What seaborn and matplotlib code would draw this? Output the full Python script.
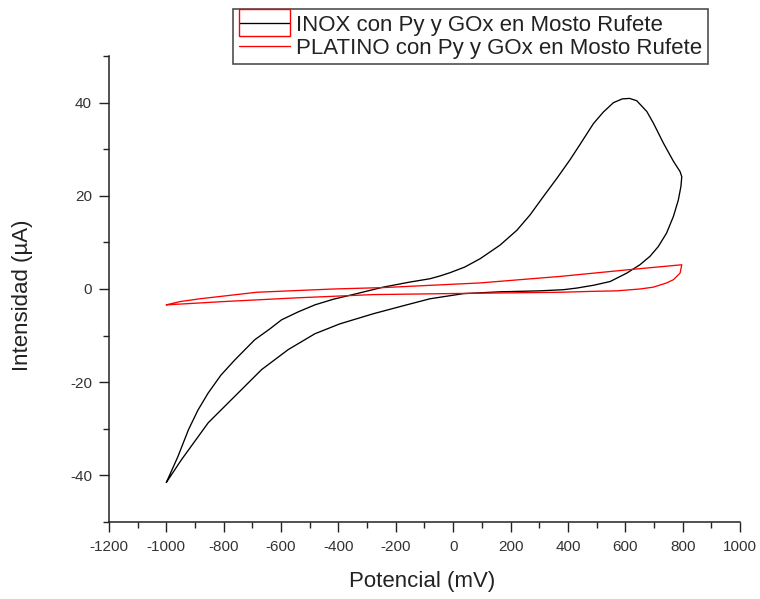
import matplotlib
matplotlib.use("Agg")
import matplotlib.pyplot as plt
from matplotlib.legend_handler import HandlerLine2D
from matplotlib.patches import Rectangle
from matplotlib.ticker import MultipleLocator
import seaborn as sns
import pandas as pd

# Cyclic voltammogram, stainless steel (INOX) electrode: potential (mV), current (uA)
inox_potential = [-1000, -960, -923, -890, -854, -810, -761, -692, -640, -598, -540,
                  -482, -418, -330, -244, -150, -81, -46, -11, 40, 94, 163, 222, 268,
                  314, 361, 407, 442, 489, 524, 559, 590, 615, 640, 675, 698, 733,
                  768, 791, 797,
                  794, 785, 768, 744, 715, 686, 651, 605, 547, 489, 431, 384, 300,
                  163, 35, -81, -162, -278, -396, -482, -575, -668, -761, -854,
                  -947, -1000]
inox_current = [-41.5, -36.0, -30.2, -26.0, -22.3, -18.5, -15.2, -10.9, -8.6, -6.6, -4.9,
                -3.4, -2.2, -0.9, 0.4, 1.5, 2.2, 2.8, 3.5, 4.7, 6.5, 9.4, 12.6, 15.9,
                19.8, 23.7, 27.7, 31.0, 35.5, 38.0, 40.0, 40.8, 40.9, 40.4, 38.1, 35.6, 31.3,
                27.4, 25.2, 24.1,
                22.0, 19.1, 15.6, 12.0, 9.1, 7.0, 5.2, 3.4, 1.6, 0.8, 0.2, -0.15, -0.4,
                -0.6, -1.0, -2.1, -3.4, -5.3, -7.5, -9.6, -13.0, -17.3, -23.0, -28.7,
                -36.6, -41.5]

# Cyclic voltammogram, platinum electrode
pt_potential = [-1000, -952, -883, -685, -418, -245, 93, 373, 605, 797,
                791, 768, 744, 698, 651, 570, 488, 373, 93, -279, -546, -801, -941, -1000]
pt_current = [-3.4, -2.7, -2.1, -0.7, 0.0, 0.3, 1.3, 2.7, 4.1, 5.2,
              3.4, 2.0, 1.3, 0.4, 0.0, -0.4, -0.5, -0.7, -0.9, -1.2, -1.9, -2.7, -3.2, -3.4]

series_labels = ["INOX con Py y GOx en Mosto Rufete",
                 "PLATINO con Py y GOx en Mosto Rufete"]

x_ticks = list(range(-1200, 1001, 200))
y_ticks = [-40, -20, 0, 20, 40]

sns.set_style("ticks")
plt.rcParams["font.family"] = ["Liberation Sans", "DejaVu Sans"]
plt.rcParams["axes.unicode_minus"] = False

inox = pd.DataFrame({"Potencial": inox_potential, "Intensidad": inox_current})
pt = pd.DataFrame({"Potencial": pt_potential, "Intensidad": pt_current})

fig = plt.figure(figsize=(7.6, 5.99), dpi=100)
ax = fig.add_axes([109 / 760, 1 - 522 / 599, 631 / 760, 466 / 599])

sns.lineplot(data=inox, x="Potencial", y="Intensidad", sort=False, estimator=None,
             color="black", lw=0.95, ax=ax, label=series_labels[0])
sns.lineplot(data=pt, x="Potencial", y="Intensidad", sort=False, estimator=None,
             color="#ff0000", lw=0.95, ax=ax, label=series_labels[1])

ax.set_xlim(-1200, 1000)
ax.set_ylim(-50, 50)
ax.set_xticks(x_ticks)
ax.set_yticks(y_ticks)
ax.xaxis.set_minor_locator(MultipleLocator(100))
ax.yaxis.set_minor_locator(MultipleLocator(10))
ax.tick_params(which="major", length=7.2, width=1.0, color="#222222",
               labelsize=11, labelcolor="#333333")
ax.tick_params(which="minor", length=4.3, width=1.0, color="#222222")
ax.tick_params(axis="y", which="major", pad=5)
ax.tick_params(axis="x", which="major", pad=6)

for side in ("top", "right"):
    ax.spines[side].set_visible(False)
for side in ("left", "bottom"):
    ax.spines[side].set_linewidth(1.1)
    ax.spines[side].set_color("#222222")

ax.set_xlabel("Potencial (mV)", fontsize=16, color="#222222")
ax.set_ylabel("Intensidad (µA)", fontsize=16, color="#222222")
ax.xaxis.set_label_coords(0.497, -0.105)
ax.yaxis.set_label_coords(-0.12, 0.487)


class BoxedLine(HandlerLine2D):
    """Line handle framed by a thin red box."""

    def create_artists(self, legend, orig_handle, xdescent, ydescent, width,
                       height, fontsize, trans):
        artists = super().create_artists(legend, orig_handle, xdescent, ydescent,
                                         width, height, fontsize, trans)
        cy = -ydescent + height / 2
        box_h = 1.2 * fontsize
        rect = Rectangle((-xdescent, cy - box_h / 2), width, box_h, fill=False,
                         edgecolor="#ff0000", lw=1.0, transform=trans)
        return list(artists) + [rect]


handles, labels = ax.get_legend_handles_labels()
ax.get_legend().remove()
leg = fig.legend(handles, labels, loc="upper left",
                 bbox_to_anchor=(233 / 760, 1 - 9 / 599), borderaxespad=0,
                 fontsize=16, frameon=True, fancybox=False, shadow=False,
                 handlelength=2.3, handletextpad=0.28, borderpad=0.25,
                 labelspacing=0.1, handler_map={handles[0]: BoxedLine()})
leg.get_frame().set_edgecolor("#222222")
leg.get_frame().set_linewidth(1.2)
for t in leg.get_texts():
    t.set_color("#222222")

fig.savefig("out.png", dpi=100)
